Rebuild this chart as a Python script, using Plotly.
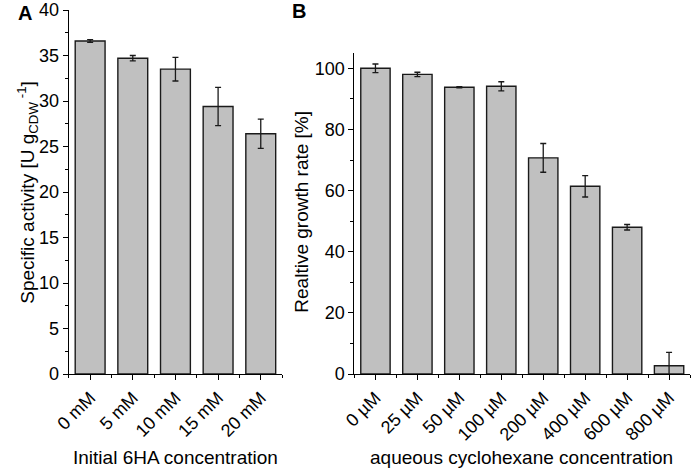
import plotly.graph_objects as go

# panel A
conc_a = ["0 mM", "5 mM", "10 mM", "15 mM", "20 mM"]
activity = [36.6, 34.7, 33.5, 29.4, 26.4]
activity_err = [0.15, 0.3, 1.3, 2.1, 1.6]

# panel B
conc_b = ["0 µM", "25 µM", "50 µM", "100 µM", "200 µM", "400 µM", "600 µM", "800 µM"]
growth = [100.0, 98.0, 93.8, 94.1, 70.7, 61.4, 48.0, 2.7]
growth_err = [1.4, 0.7, 0.2, 1.5, 4.7, 3.5, 0.9, 4.4]

bar_fill = "#c0c0c0"
edge = "#1a1a1a"
font = "Liberation Sans, Arial, sans-serif"

W, H = 692, 471
TOP, BOT = 10, 374   # pixel rows of the plot area

fig = go.Figure()

fig.add_trace(go.Bar(
    x=list(range(len(conc_a))), y=activity, width=0.7,
    marker=dict(color=bar_fill, line=dict(color=edge, width=1.4)),
    error_y=dict(type="data", array=activity_err, color=edge, thickness=1.3, width=3),
    xaxis="x", yaxis="y", showlegend=False))

fig.add_trace(go.Bar(
    x=list(range(len(conc_b))), y=growth, width=0.7,
    marker=dict(color=bar_fill, line=dict(color=edge, width=1.4)),
    error_y=dict(type="data", array=growth_err, color=edge, thickness=1.3, width=3),
    xaxis="x2", yaxis="y2", showlegend=False))

ax = dict(showline=True, linecolor="black", linewidth=1.3, ticks="outside",
          tickcolor="black", ticklen=5, tickwidth=1.2, showgrid=False, zeroline=False,
          tickfont=dict(family=font, size=18, color="black"))

fig.update_layout(
    width=W, height=H,
    margin=dict(l=0, r=0, t=TOP, b=H - BOT),
    plot_bgcolor="white", paper_bgcolor="white",
    xaxis=dict(ax, domain=[55 / W, 273 / W], range=[-0.5, len(conc_a) - 0.5],
               tickvals=list(range(len(conc_a))), ticktext=conc_a, tickangle=-45,
               minor=dict(tickvals=[i + 0.5 for i in range(-1, len(conc_a))],
                          ticks="outside", ticklen=3, tickcolor="black")),
    yaxis=dict(ax, domain=[0, 1], range=[0, 40], dtick=5,
               minor=dict(dtick=2.5, ticks="outside", ticklen=3, tickcolor="black")),
    xaxis2=dict(ax, domain=[347 / W, 690 / W], range=[-0.5, len(conc_b) - 0.5], anchor="y2",
                tickvals=list(range(len(conc_b))), ticktext=conc_b, tickangle=-45,
                minor=dict(tickvals=[i + 0.5 for i in range(-1, len(conc_b))],
                           ticks="outside", ticklen=3, tickcolor="black")),
    yaxis2=dict(ax, domain=[0, (BOT - 53) / (BOT - TOP)], range=[0, 105], dtick=20, anchor="x2",
                minor=dict(dtick=10, ticks="outside", ticklen=3, tickcolor="black")),
)


def py(y):
    return (BOT - y) / (BOT - TOP)


labels = [
    dict(text="<b>A</b>", x=10, y=13, size=20, angle=0),
    dict(text="<b>B</b>", x=290, y=11, size=20, angle=0),
    dict(text="Initial 6HA concentration", x=164, y=457, size=19, angle=0),
    dict(text="aqueous cyclohexane concentration", x=518, y=457, size=19, angle=0),
    dict(text="Specific activity [U g<sub>CDW</sub><sup> -1</sup>]", x=12, y=192, size=19, angle=-90),
    dict(text="Realtive growth rate [%]", x=292, y=212, size=19, angle=-90),
]
for a in labels:
    fig.add_annotation(text=a["text"], x=a["x"] / W, y=py(a["y"]),
                       xref="paper", yref="paper", showarrow=False, textangle=a["angle"],
                       xanchor="center", yanchor="middle",
                       font=dict(family=font, size=a["size"], color="black"))

fig.write_html("out.html", config={"displayModeBar": False},
               post_script="document.body.style.margin='0';")
